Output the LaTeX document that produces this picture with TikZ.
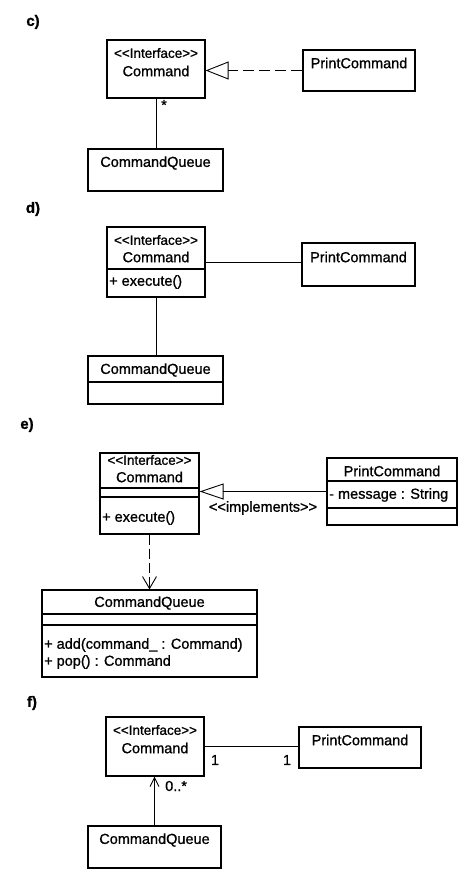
\documentclass[tikz,border=0pt]{standalone}
\usepackage{fontspec}
\newfontfamily\umlfont[FakeBold=1]{Liberation Sans}
\usetikzlibrary{arrows.meta}
\begin{document}
\begin{tikzpicture}[x=1pt,y=-1pt,
  box/.style={draw,line width=1.2pt,inner sep=0pt},
  txt/.style={inner sep=0pt,font=\umlfont\fontsize{14.5}{16}\selectfont},
  itxt/.style={inner sep=0pt,font=\umlfont\fontsize{13.5}{15}\selectfont},
  ltxt/.style={inner sep=0pt,anchor=west,font=\umlfont\fontsize{14.5}{16}\selectfont},
  lbl/.style={inner sep=0pt,font=\umlfont\fontsize{15}{17}\selectfont\bfseries},
  conn/.style={line width=0.9pt},
  dash1/.style={dash pattern=on 11pt off 5pt},
  dash2/.style={dash pattern=on 10pt off 4pt},
  real/.style={-{Triangle[open,length=23pt,width=18pt,line width=0.9pt]}},
  dep/.style={-{Straight Barb[length=12pt,width=14pt,line width=0.9pt]}},
  nav/.style={-{Straight Barb[length=9pt,width=9pt,line width=0.9pt]}}]
\useasboundingbox (0,0) rectangle (465,885);
\fill[white] (0,0) rectangle (465,885);

% ---------- c) ----------
\node[lbl] (lc) at (33,22) {c)};
\node[box,minimum width=98,minimum height=58] (cC) at (156,69) {};
\node[itxt] (cCs) at (156,53) {<<Interface>>};
\node[txt] (cCn) at (156,71) {Command};
\node[box,minimum width=112,minimum height=41] (pC) at (359,70.5) {};
\node[txt] (pCn) at (359,63) {PrintCommand};
\node[box,minimum width=135,minimum height=42] (qC) at (155.5,170) {};
\node[txt] (qCn) at (155.5,163) {CommandQueue};
\draw[conn,dash1,real] (pC.west) -- (pC.west -| cC.east);
\draw[conn] (cC.south) -- (cC.south |- qC.north);
\node[txt] (starC) at (164,105) {*};

% ---------- d) ----------
\node[lbl] (ld) at (33,209) {d)};
\node[box,minimum width=98,minimum height=70] (cD) at (156,262) {};
\draw[line width=1.2pt] (cD.west |- 0,269) -- (cD.east |- 0,269);
\node[itxt] (cDs) at (156,240) {<<Interface>>};
\node[txt] (cDn) at (156,257) {Command};
\node[ltxt] (cDm) at (109,282) {+ execute()};
\node[box,minimum width=113,minimum height=43] (pD) at (358.5,264.5) {};
\node[txt] (pDn) at (358.5,257) {PrintCommand};
\node[box,minimum width=135,minimum height=48] (qD) at (155.5,380) {};
\draw[line width=1.2pt] (qD.west |- 0,382) -- (qD.east |- 0,382);
\node[txt] (qDn) at (155.5,370) {CommandQueue};
\draw[conn] (cD.east) -- (cD.east -| pD.west);
\draw[conn] (cD.south) -- (cD.south |- qD.north);

% ---------- e) ----------
\node[lbl] (le) at (27,425) {e)};
\node[box,minimum width=99,minimum height=81] (cE) at (149.5,493.5) {};
\draw[line width=1.2pt] (cE.west |- 0,488) -- (cE.east |- 0,488);
\draw[line width=1.2pt] (cE.west |- 0,497) -- (cE.east |- 0,497);
\node[itxt] (cEs) at (149.5,460) {<<Interface>>};
\node[txt] (cEn) at (149.5,477) {Command};
\node[ltxt] (cEm) at (102,518) {+ execute()};
\node[box,minimum width=130,minimum height=67] (pE) at (392,491.5) {};
\draw[line width=1.2pt] (pE.west |- 0,481) -- (pE.east |- 0,481);
\draw[line width=1.2pt] (pE.west |- 0,508) -- (pE.east |- 0,508);
\node[txt] (pEn) at (392,471) {PrintCommand};
\node[ltxt] (pEa) at (329,495) {- message : String};
\node[box,minimum width=215,minimum height=87] (qE) at (149.5,633.5) {};
\draw[line width=1.2pt] (qE.west |- 0,614) -- (qE.east |- 0,614);
\draw[line width=1.2pt] (qE.west |- 0,625) -- (qE.east |- 0,625);
\node[txt] (qEn) at (149.5,603) {CommandQueue};
\node[ltxt] (qEm1) at (44,645) {+ add(command\_ : Command)};
\node[ltxt] (qEm2) at (44,662) {+ pop() : Command};
\draw[conn,-{Triangle[open,length=24pt,width=16pt,line width=0.9pt]}] (pE.west) -- (pE.west -| cE.east);
\node[txt] (impl) at (263,508) {<<implements>>};
\draw[conn,dash2,dep] (cE.south) -- (cE.south |- qE.north);

% ---------- f) ----------
\node[lbl] (lf) at (32,703) {f)};
\node[box,minimum width=98,minimum height=59] (cF) at (155,746.5) {};
\node[itxt] (cFs) at (155,730) {<<Interface>>};
\node[txt] (cFn) at (155,748) {Command};
\node[box,minimum width=122,minimum height=41] (pF) at (360,747.5) {};
\node[txt] (pFn) at (360,740) {PrintCommand};
\node[box,minimum width=133,minimum height=42] (qF) at (154.5,847) {};
\node[txt] (qFn) at (154.5,840) {CommandQueue};
\draw[conn] (cF.east) -- (cF.east -| pF.west);
\node[txt] (m1) at (215,760) {1};
\node[txt] (m2) at (287,760) {1};
\draw[conn,nav] (qF.north) -- (qF.north |- cF.south);
\node[txt,anchor=west] (m3) at (165,786) {0..*};
\end{tikzpicture}
\end{document}
